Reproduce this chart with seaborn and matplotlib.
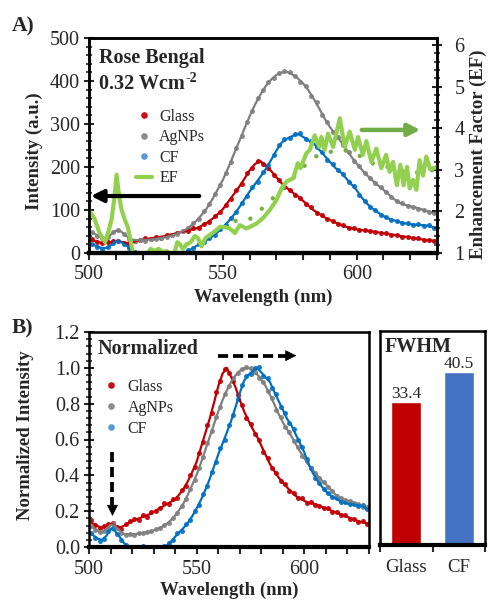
import numpy as np
import pandas as pd
import matplotlib
matplotlib.use("Agg")
import matplotlib.pyplot as plt
from matplotlib.ticker import MultipleLocator, FixedLocator, FormatStrFormatter
from matplotlib.lines import Line2D
import seaborn as sns

# ---------------- data ----------------
# emission spectra (a.u.), smoothed trend sampled every 2 nm from 500 to 630 nm
wl_fit = np.arange(500, 631, 2)
glass_fit = [31, 28, 25, 23, 25, 28, 26, 23, 25, 28,
             31, 33, 35, 37, 39, 42, 45, 48, 51, 54,
             57, 63, 70, 79, 90, 102, 119, 136, 153, 172,
             192, 207, 214, 203, 191, 176, 162, 151, 141, 132,
             121, 110, 99, 91, 83, 77, 71, 66, 61, 58,
             55, 53, 52, 50, 48, 46, 44, 42, 40, 38,
             36, 34, 32, 30, 29, 28]
agnp_fit = [50, 45, 38, 34, 42, 52, 50, 39, 31, 30,
            30, 31, 32, 34, 36, 39, 43, 48, 54, 63,
            74, 88, 104, 124, 147, 170, 198, 228, 258, 288,
            318, 345, 368, 388, 403, 414, 420, 421, 415, 406,
            394, 378, 358, 336, 313, 293, 276, 260, 242, 224,
            208, 193, 180, 168, 157, 147, 136, 125, 117, 112,
            109, 106, 102, 98, 94, 90]
cf_fit = [22, 18, 13, 11, 17, 28, 25, 17, 7, 0,
          -4, -5, -3, -1, -3, -5, -4, -2, 2, 8,
          16, 23, 30, 38, 48, 60, 73, 88, 105, 124,
          143, 160, 177, 195, 216, 238, 257, 266, 272, 277,
          270, 262, 255, 240, 226, 212, 198, 188, 174, 160,
          146, 128, 114, 103, 94, 86, 80, 76, 72, 69,
          67, 66, 65, 64, 61, 58]

# measured points, every 2 nm from 501 to 629 nm
wl_pts = np.arange(501, 630, 2)
glass_pts = [32, 26, 23, 25, 27, 29, 24, 22, 27, 31,
             34, 32, 38, 36, 42, 43, 47, 52, 51, 57,
             59, 68, 73, 86, 95, 112, 126, 146, 160, 185,
             198, 213, 208, 198, 182, 170, 154, 147, 135, 128,
             114, 106, 94, 88, 79, 75, 67, 64, 58, 58,
             53, 54, 50, 49, 46, 46, 42, 42, 38, 38,
             34, 34, 30, 31, 27]
agnp_pts = [49, 40, 35, 38, 49, 53, 45, 33, 29, 31,
            29, 33, 32, 36, 37, 42, 44, 52, 57, 69,
            80, 97, 113, 137, 158, 186, 212, 245, 272, 305,
            330, 360, 378, 398, 408, 418, 423, 420, 412, 398,
            388, 366, 350, 322, 305, 282, 270, 250, 234, 214,
            202, 186, 175, 162, 153, 141, 131, 120, 116, 110,
            108, 103, 101, 95, 93]
cf_pts = [21, 14, 10, 13, 24, 29, 20, 11, 3, -2,
          -5, -4, 1, -2, -4, -5, -3, 1, 6, 11,
          21, 25, 35, 42, 55, 65, 82, 95, 116, 132,
          153, 166, 188, 204, 229, 250, 264, 267, 276, 279,
          264, 261, 246, 236, 217, 207, 192, 183, 165, 155,
          136, 122, 107, 99, 89, 84, 77, 75, 69, 70,
          66, 67, 63, 65, 58]

# enhancement factor (AgNPs / Glass)
ef_wl = [500.5, 502, 504, 506, 507.5, 508.5, 509.5, 510.3, 511.3, 512.2,
         513.5, 514.5, 515.5, 516.5, 518, 520, 521.5, 523, 524.5, 526,
         527.5, 529, 530.5, 531.5, 533, 534, 535, 536.5, 538, 539.5,
         540.7, 542, 543.5, 545, 547, 549, 551, 552.6, 554.5, 556.3,
         558.8, 560.5, 562.6, 565, 567.5, 570, 571.9, 573.8, 576.3, 578,
         579, 581.2, 582.5, 584.3, 586, 586.8, 588, 589.3, 591.2, 593.7,
         595.5, 597.4, 599.3, 600.5, 602.3, 603.6, 605.5, 607.3, 609.2, 611,
         612.3, 613.6, 615, 616.3, 617.5, 618.8, 619.8, 621, 622.3, 623.5,
         624.8, 626, 627.4, 629.3, 630]
ef_val = [1.98, 1.83, 1.47, 1.26, 1.57, 1.83, 2.34, 2.88, 2.34, 2.03,
          1.78, 1.62, 1.31, 1.0, 0.84, 0.84, 0.95, 1.1, 1.05, 1.1,
          1.02, 1.05, 0.95, 0.9, 1.26, 1.21, 1.1, 1.21, 1.26, 1.41,
          1.36, 1.16, 1.36, 1.43, 1.52, 1.63, 1.62, 1.59, 1.48, 1.67,
          1.59, 1.64, 1.71, 1.84, 2.03, 2.27, 2.55, 2.72, 2.8, 3.16,
          3.04, 3.4, 3.48, 3.83, 3.55, 3.79, 3.48, 3.87, 3.55, 4.24,
          3.55, 3.92, 3.48, 3.79, 3.36, 3.69, 3.19, 3.51, 3.04, 3.36,
          2.95, 3.19, 2.63, 3.12, 2.63, 3.07, 2.55, 2.76, 2.52, 3.23,
          2.86, 3.32, 3.02, 3.05, 3.07]
# EF trend
ef_trend_wl = [545, 550, 555, 560, 565, 570, 575, 580, 585, 590,
               595, 600, 605, 610, 615, 620, 625, 630]
ef_trend = [1.41, 1.64, 1.78, 1.81, 2.09, 2.4, 2.72, 3.07, 3.33, 3.43,
            3.48, 3.38, 3.17, 3.1, 3.0, 2.93, 2.94, 3.02]

# FWHM (nm)
fwhm_cat = ["Glass", "CF"]
fwhm_val = [33.4, 40.5]

# ---------------- style ----------------
sns.set_theme(style="white")
plt.rcParams["font.family"] = ["Liberation Serif", "DejaVu Serif"]

RED, GRAY, BLUE = "#C00000", "#7F7F7F", "#0070C0"
RED_D, GRAY_D, BLUE_D = "#C8101A", "#8C8C8C", "#1A7ACB"
EF_C, ARROW_G, EF_DOT = "#92D050", "#70AD47", "#76B041"
TICK_FS, LAB_FS = 14.5, 13.5
DOT_S = 13

W, H = 488, 602
fig = plt.figure(figsize=(W / 100, H / 100), dpi=100)
renderer = fig.canvas.get_renderer()


def box(l, t, r, b):
    return [l / W, 1 - b / H, (r - l) / W, (b - t) / H]


def style_axes(ax):
    for s in ax.spines.values():
        s.set_color("black")
        s.set_linewidth(1.8)
    ax.spines["bottom"].set_linewidth(3)


# ---------------- panel A ----------------
axA = fig.add_axes(box(89, 38, 437, 253))
series = [(glass_fit, glass_pts, RED, RED_D),
          (agnp_fit, agnp_pts, GRAY, GRAY_D),
          (cf_fit, cf_pts, BLUE, BLUE_D)]
for fit, pts, lc, dc in series:
    sns.scatterplot(x=wl_pts, y=pts, color=dc, s=DOT_S, linewidth=0, ax=axA, legend=False)
    sns.lineplot(x=wl_fit, y=fit, color=lc, lw=1.6, ax=axA, legend=False, errorbar=None)
axA.set_xlim(500, 630)
axA.set_ylim(0, 500)
axA.set_xlabel("")
axA.set_ylabel("")
axA.xaxis.set_major_locator(MultipleLocator(50))
axA.xaxis.set_minor_locator(MultipleLocator(10))
axA.yaxis.set_major_locator(MultipleLocator(100))
axA.yaxis.set_minor_locator(MultipleLocator(20))
axA.tick_params(axis="x", which="both", direction="out", length=5, width=1.5,
                labelsize=TICK_FS, pad=4, bottom=True)
axA.tick_params(axis="y", which="major", direction="inout", length=7, width=1.5,
                labelsize=TICK_FS, pad=3, left=True)
axA.tick_params(axis="y", which="minor", direction="inout", length=5, width=1.2, left=True)
style_axes(axA)

axEF = axA.twinx()
sns.lineplot(x=ef_trend_wl, y=ef_trend, color=EF_DOT, lw=3.2, ax=axEF, legend=False,
             errorbar=None, linestyle=(0, (0.01, 3.4)), dash_capstyle="round")
sns.lineplot(x=ef_wl, y=ef_val, color=EF_C, lw=3.0, ax=axEF, legend=False, errorbar=None)
axEF.set_ylim(1, 6.17)
axEF.set_xlim(500, 630)
axEF.set_ylabel("")
axEF.yaxis.set_major_locator(MultipleLocator(1))
axEF.yaxis.set_minor_locator(MultipleLocator(0.2))
axEF.tick_params(axis="y", which="major", direction="inout", length=7, width=1.5,
                 labelsize=TICK_FS, pad=9, right=True)
axEF.tick_params(axis="y", which="minor", direction="inout", length=5, width=1.2, right=True)
style_axes(axEF)

# direction arrows (left axis / right axis)
axEF.annotate("", xy=(500.7, 2.37), xytext=(541.2, 2.37),
              arrowprops=dict(arrowstyle="-|>", lw=3, color="black",
                              mutation_scale=18, shrinkA=0, shrinkB=0))
axEF.annotate("", xy=(623.8, 3.96), xytext=(601.9, 3.96),
              arrowprops=dict(arrowstyle="-|>", lw=3.2, color=ARROW_G,
                              mutation_scale=18, shrinkA=0, shrinkB=0))

fig.text(99 / W, 1 - 58 / H, "Rose Bengal", fontsize=14.5, fontweight="bold",
         va="center", ha="left")
power = fig.text(99 / W, 1 - 84 / H, "0.32 Wcm", fontsize=14.5, fontweight="bold",
                 va="center", ha="left")
pw_box = power.get_window_extent(renderer=renderer)
fig.text((pw_box.x1 + 1) / W, 1 - 78 / H, "-2", fontsize=10, fontweight="bold",
         va="center", ha="left")

handlesA = [Line2D([], [], ls="none", marker="o", ms=4.8, mec="none", color=RED_D),
            Line2D([], [], ls="none", marker="o", ms=4.8, mec="none", color=GRAY_D),
            Line2D([], [], ls="none", marker="o", ms=4.8, mec="none", color="#5B9BD5"),
            Line2D([], [], color=EF_C, lw=3)]
axEF.legend(handlesA, ["Glass", "AgNPs", "CF", "EF"], loc="upper left",
            bbox_to_anchor=(136 / W, 1 - 109 / H), bbox_transform=fig.transFigure,
            frameon=False, fontsize=11.5, handlelength=1.0, handletextpad=0.45,
            labelspacing=0.28, borderpad=0, borderaxespad=0)

fig.text(12 / W, 1 - 26 / H, "A)", fontsize=15.5, fontweight="bold", va="center")
fig.text(34 / W, 1 - 151 / H, "Intensity (a.u.)", rotation=90, fontsize=LAB_FS,
         fontweight="bold", ha="center", va="center")
fig.text(478 / W, 1 - 154 / H, "Enhancement Factor (EF)", rotation=90, fontsize=LAB_FS,
         fontweight="bold", ha="center", va="center")
fig.text(263 / W, 1 - 297 / H, "Wavelength (nm)", fontsize=LAB_FS,
         fontweight="bold", ha="center", va="center")

# ---------------- panel B ----------------
axB = fig.add_axes(box(89, 332, 369, 547))
for fit, pts, lc, dc in series:
    peak = max(fit)
    sns.scatterplot(x=wl_pts, y=np.array(pts) / peak, color=dc, s=DOT_S, linewidth=0,
                    ax=axB, legend=False)
    sns.lineplot(x=wl_fit, y=np.array(fit) / peak, color=lc, lw=1.6, ax=axB,
                 legend=False, errorbar=None)
axB.set_xlim(500, 630)
axB.set_ylim(0, 1.2)
axB.set_xlabel("")
axB.set_ylabel("")
axB.xaxis.set_major_locator(MultipleLocator(50))
axB.xaxis.set_minor_locator(MultipleLocator(10))
axB.yaxis.set_major_locator(MultipleLocator(0.2))
axB.yaxis.set_minor_locator(MultipleLocator(0.04))
axB.yaxis.set_major_formatter(FormatStrFormatter("%.1f"))
axB.tick_params(axis="x", which="both", direction="out", length=5, width=1.5,
                labelsize=TICK_FS, pad=4, bottom=True)
axB.tick_params(axis="y", which="major", direction="inout", length=7, width=1.5,
                labelsize=TICK_FS, pad=3, left=True)
axB.tick_params(axis="y", which="minor", direction="inout", length=5, width=1.2, left=True)
style_axes(axB)

# dashed arrows: red-shift and the 510 nm shoulder
axB.plot([559.8, 592.0], [1.068, 1.068], color="black", lw=2.7, ls=(0, (2.7, 1.3)),
         solid_capstyle="butt")
axB.annotate("", xy=(596.3, 1.068), xytext=(590.0, 1.068),
             arrowprops=dict(arrowstyle="-|>", lw=0.5, color="black",
                             mutation_scale=18, shrinkA=0, shrinkB=0))
axB.plot([510.9, 510.9], [0.532, 0.215], color="black", lw=2.7, ls=(0, (2.7, 1.3)),
         solid_capstyle="butt")
axB.annotate("", xy=(510.9, 0.173), xytext=(510.9, 0.22),
             arrowprops=dict(arrowstyle="-|>", lw=0.5, color="black",
                             mutation_scale=18, shrinkA=0, shrinkB=0))

fig.text(98 / W, 1 - 349 / H, "Normalized", fontsize=14.5, fontweight="bold",
         va="center", ha="left")
handlesB = handlesA[:3]
axB.legend(handlesB, ["Glass", "AgNPs", "CF"], loc="upper left",
           bbox_to_anchor=(103 / W, 1 - 379 / H), bbox_transform=fig.transFigure,
           frameon=False, fontsize=11.5, handlelength=1.0, handletextpad=0.55,
           labelspacing=0.3, borderpad=0, borderaxespad=0)

fig.text(12 / W, 1 - 328 / H, "B)", fontsize=15.5, fontweight="bold", va="center")
fig.text(26 / W, 1 - 435 / H, "Normalized Intensity", rotation=90, fontsize=LAB_FS,
         fontweight="bold", ha="center", va="center")
fig.text(229 / W, 1 - 590 / H, "Wavelength (nm)", fontsize=LAB_FS,
         fontweight="bold", ha="center", va="center")

# ---------------- FWHM inset ----------------
axC = fig.add_axes(box(380, 331, 485, 545))
sns.barplot(x=fwhm_cat, y=fwhm_val, hue=fwhm_cat, palette=[RED, "#4472C4"],
            width=0.58, saturation=1, legend=False, ax=axC)
axC.set_xlim(-0.5, 1.5)
axC.set_ylim(0, 50)
axC.set_yticks([])
axC.set_xlabel("")
axC.set_ylabel("")
axC.xaxis.set_minor_locator(FixedLocator([-0.5, 0.5, 1.5]))
axC.tick_params(axis="x", which="major", length=0, labelsize=13.5, pad=10)
axC.tick_params(axis="x", which="minor", direction="out", length=5, width=1.5, bottom=True)
for c in axC.containers:
    axC.bar_label(c, fmt="%.1f", fontsize=12.5, padding=0)
style_axes(axC)
fig.text(385 / W, 1 - 347 / H, "FWHM", fontsize=14.5, fontweight="bold",
         va="center", ha="left")

fig.savefig("out.png", dpi=100)
